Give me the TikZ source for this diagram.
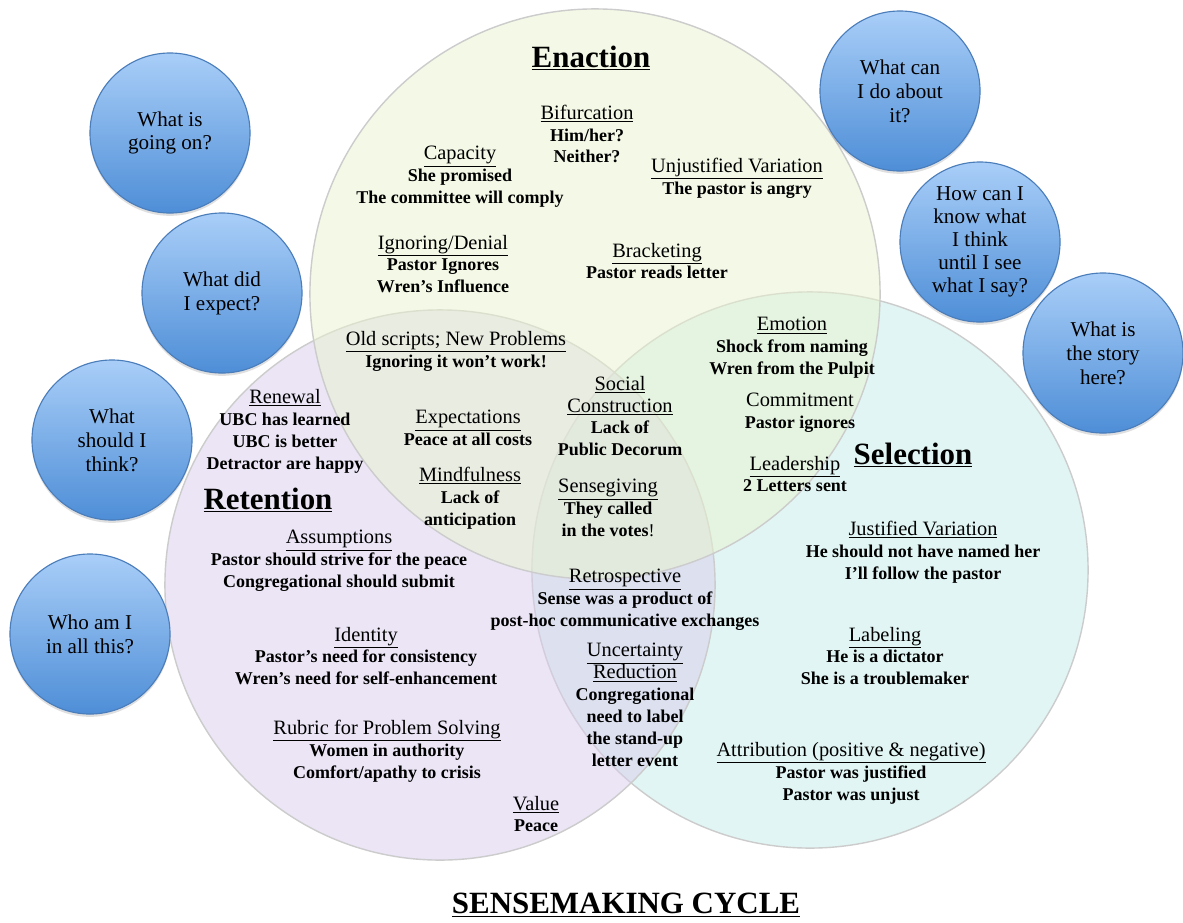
\documentclass[tikz,border=0pt]{standalone}
\usepackage{fontspec}
\setmainfont{Liberation Serif}
\usepackage{xcolor}
\usepackage{tikz}
\usetikzlibrary{shapes,shadows}

\definecolor{enactFill}{HTML}{E8F4CE}
\definecolor{retainFill}{HTML}{D8CCEC}
\definecolor{selectFill}{HTML}{C4EFEA}
\definecolor{bubbleTop}{HTML}{A9CEF8}
\definecolor{bubbleBot}{HTML}{4E8ED7}
\definecolor{bubbleLine}{HTML}{4A7DBA}

\newcommand{\hdText}[1]{{\mdseries\fontsize{14.5}{15.6}\selectfont\underline{#1}}}

\tikzstyle{tsPhase} = [
    draw=gray!40,
    line width=1pt,
    fill opacity=0.5
]
\tikzstyle{tsTopic} = [
    text=black,
    font=\fontsize{12.8}{15.6}\selectfont\bfseries,
    align=center,
    inner sep=0pt
]
\tikzstyle{tsStage} = [
    text=black,
    font=\fontsize{22}{26}\selectfont\bfseries,
    inner sep=0pt
]
\tikzstyle{tsBubble} = [
    circle,
    minimum size=4cm,
    inner sep=0pt,
    draw=bubbleLine,
    line width=0.8pt,
    top color=bubbleTop,
    bottom color=bubbleBot,
    drop shadow={opacity=0.25, shadow xshift=0pt, shadow yshift=-2pt},
    align=center,
    text=black,
    font=\fontsize{15}{17}\selectfont
]

\begin{document}
\begin{tikzpicture}[x=0.025cm, y=-0.025cm]

        \useasboundingbox (0,0) rectangle (1183,922);

        % the three phases
        \fill[white] (0,0) rectangle (1183,922);
        \draw[tsPhase, fill=selectFill] (810,570) circle[radius=6.95cm];
        \draw[tsPhase, fill=retainFill] (440,585) circle[radius=6.875cm];
        \draw[tsPhase, fill=enactFill] (595,294) circle[radius=7.125cm];

        % questions round the cycle
        \node[tsBubble] (goingOn) at (170,133) {What is\\going on?};
        \node[tsBubble] (expect) at (222,293) {What did\\I expect?};
        \node[tsBubble] (think) at (112,440) {What\\should I\\think?};
        \node[tsBubble] (whoAmI) at (90,634) {Who am I\\in all this?};
        \node[tsBubble] (doAbout) at (900,91) {What can\\I do about\\it?};
        \node[tsBubble, font=\fontsize{15}{16.3}\selectfont] (knowThink) at (980,242) {How can I\\know what\\I think\\until I see\\what I say?};
        \node[tsBubble] (story) at (1103,353) {What is\\the story\\here?};

        % phase titles
        \node[tsStage] (enaction) at (591,58) {\underline{Enaction}};
        \node[tsStage] (selection) at (913,455) {\underline{Selection}};
        \node[tsStage] (retention) at (268,500) {\underline{Retention}};

        % enaction
        \node[tsTopic] (bifurcation) at (587,134) {\hdText{Bifurcation}\\Him/her?\\Neither?};
        \node[tsTopic] (capacity) at (460,177) {\hdText{Capacity}\\She promised\\The committee will comply};
        \node[tsTopic] (unjustified) at (737,178) {\hdText{Unjustified Variation}\\The pastor is angry};
        \node[tsTopic] (ignoring) at (443,264) {\hdText{Ignoring/Denial}\\Pastor Ignores\\Wren’s Influence};
        \node[tsTopic] (bracketing) at (657,261) {\hdText{Bracketing}\\Pastor reads letter};

        % overlaps
        \node[tsTopic] (oldScripts) at (456,351) {\hdText{Old scripts; New Problems}\\Ignoring it won’t work!};
        \node[tsTopic] (expectations) at (468,428) {\hdText{Expectations}\\Peace at all costs};
        \node[tsTopic] (mindfulness) at (470,498) {\hdText{Mindfulness}\\Lack of\\anticipation};
        \node[tsTopic] (social) at (620,416) {\hdText{Social}\\\hdText{Construction}\\Lack of\\Public Decorum};
        \node[tsTopic] (sensegiving) at (608,508) {\hdText{Sensegiving}\\They called\\in the votes{\mdseries !}};
        \node[tsTopic] (retrospective) at (625,600) {\hdText{Retrospective}\\Sense was a product of\\post-hoc communicative exchanges};
        \node[tsTopic] (uncertainty) at (635,705) {\hdText{Uncertainty}\\\hdText{Reduction}\\Congregational\\need to label\\the stand-up\\letter event};

        % selection
        \node[tsTopic] (emotion) at (792,348) {\hdText{Emotion}\\Shock from naming\\Wren from the Pulpit};
        \node[tsTopic] (commitment) at (800,413) {{\mdseries\fontsize{14.5}{15.6}\selectfont Commitment}\\Pastor ignores};
        \node[tsTopic] (leadership) at (795,474) {\hdText{Leadership}\\2 Letters sent};
        \node[tsTopic] (justified) at (923,552) {\hdText{Justified Variation}\\He should not have named her\\I’ll follow the pastor};
        \node[tsTopic] (labeling) at (885,656) {\hdText{Labeling}\\He is a dictator\\She is a troublemaker};
        \node[tsTopic] (attribution) at (851,773) {\hdText{Attribution (positive \& negative)}\\Pastor was justified\\Pastor was unjust};

        % retention
        \node[tsTopic] (renewal) at (285,431) {\hdText{Renewal}\\UBC has learned\\UBC is better\\Detractor are happy};
        \node[tsTopic] (assumptions) at (339,561) {\hdText{Assumptions}\\Pastor should strive for the peace\\Congregational should submit};
        \node[tsTopic] (identity) at (366,656) {\hdText{Identity}\\Pastor’s need for consistency\\Wren’s need for self-enhancement};
        \node[tsTopic] (rubric) at (387,751) {\hdText{Rubric for Problem Solving}\\Women in authority\\Comfort/apathy to crisis};
        \node[tsTopic] (value) at (536,814) {\hdText{Value}\\Peace};

        \node[tsStage] (cycle) at (626,905) {\underline{SENSEMAKING CYCLE}};

\end{tikzpicture}
\end{document}
